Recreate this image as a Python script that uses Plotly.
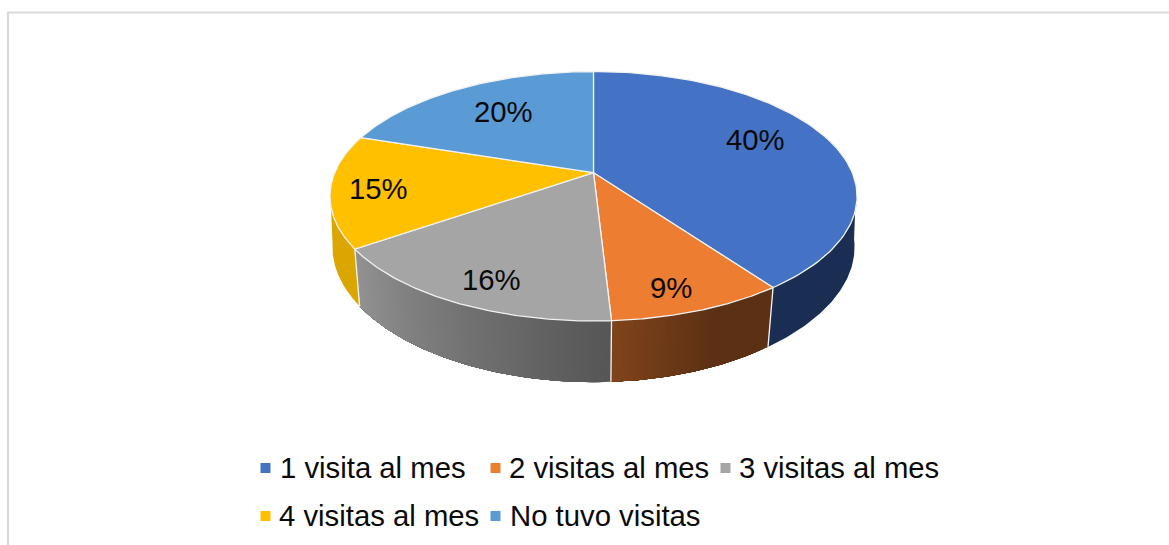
import numpy as np
import plotly.graph_objects as go

categories = ["1 visita al mes", "2 visitas al mes", "3 visitas al mes", "4 visitas al mes", "No tuvo visitas"]
values = [40.0, 9.1, 16.3, 14.6, 20.0]
top_colors = ["#4472C4", "#ED7D31", "#A5A5A5", "#FFC000", "#5B9BD5"]
# side wall shading, at the start and at the end of each slice (clockwise)
side_start = ["#1A2E54", "#5C3014", "#555555", "#DCA600", "#3A6A99"]
side_end = ["#1A2E54", "#7F431B", "#939393", "#DCA600", "#3A6A99"]
side_hold = [0.0, 0.4, 0.0, 0.0, 0.0]

FONT = "Liberation Sans"
TXT = 29.3
# perspective of the pie disc, in screen pixels
CX, CY, BX, AY, K = 593.5, 172.7, 258.8, 120.3, 0.1888
DROP, BX_S0, BX_S1, AY_S = 53.0, 0.995, 0.0002, 1.055


def hexrgb(c):
    return np.array([int(c[i:i + 2], 16) for i in (1, 3, 5)], dtype=float)


def lerp(a, b, t):
    r = hexrgb(a) * (1 - t) + hexrgb(b) * t
    return "rgb(%d,%d,%d)" % tuple(np.round(r))


def rim(theta_deg):
    t = np.radians(theta_deg)
    d = 1 + K * np.cos(t)
    return BX * np.sin(t) / d, AY * np.cos(t) / d


def top(theta_deg):
    X, Y = rim(theta_deg)
    return CX + X, CY - Y


def bottom(theta_deg):
    X, Y = rim(theta_deg)
    return CX + (BX_S0 + BX_S1 * Y) * X, CY + DROP - AY_S * Y


fig = go.Figure()

edges = np.concatenate([[0], np.cumsum(values)]) / sum(values) * 360
VIS_A, VIS_B = 96.0, 262.0

# side walls: each band runs on to the slice end, the next band paints over it
for i in range(len(values)):
    a, b = max(edges[i], VIS_A), min(edges[i + 1], VIS_B)
    if b <= a:
        continue
    n = 1 if side_start[i] == side_end[i] else max(2, int((b - a) / 1.0))
    steps = np.linspace(a, b, n + 1)
    for j in range(n):
        th = np.linspace(steps[j], b, 80)
        xt, yt = top(th)
        xb, yb = bottom(th[::-1])
        t = (j + 0.5) / n
        t = max(0.0, (t - side_hold[i]) / (1 - side_hold[i]))
        col = lerp(side_start[i], side_end[i], t)
        fig.add_trace(go.Scatter(
            x=np.concatenate([xt, xb]), y=np.concatenate([yt, yb]),
            mode="lines", fill="toself", fillcolor=col,
            line=dict(color=col, width=0),
            hoverinfo="skip", showlegend=False))

# white seams on the wall
for e in edges:
    if VIS_A < e < VIS_B:
        xt, yt = top(e)
        xb, yb = bottom(e)
        fig.add_trace(go.Scatter(x=[xt, xb], y=[yt, yb], mode="lines",
                                 line=dict(color="#F4F4F4", width=1.3),
                                 hoverinfo="skip", showlegend=False))

# top face
for i, name in enumerate(categories):
    th = np.linspace(edges[i], edges[i + 1], 120)
    xs, ys = top(th)
    fig.add_trace(go.Scatter(
        x=np.concatenate([[CX], xs, [CX]]), y=np.concatenate([[CY], ys, [CY]]),
        mode="lines", fill="toself", fillcolor=top_colors[i],
        line=dict(color="#F2F2F2", width=1.3),
        name=name, hovertemplate=f"{name}: {values[i]:.0f}%<extra></extra>",
        showlegend=False))

# percentage labels
label_xy = [(755, 139), (671, 287), (491, 279), (378, 188), (503, 111)]
for v, (lx, ly) in zip(values, label_xy):
    fig.add_annotation(x=lx, y=ly, text=f"{round(v)}%", showarrow=False,
                       xanchor="center", yanchor="middle",
                       font=dict(family=FONT, size=TXT, color="#0A0A0A"))

# legend
legend_xy = [(265.5, 277.5, 468), (495.5, 507, 468), (725.5, 737, 468), (265.5, 277, 516), (495.5, 507.5, 516)]
for name, col, (mx, tx, ly) in zip(categories, top_colors, legend_xy):
    fig.add_trace(go.Scatter(x=[mx], y=[ly], mode="markers",
                             marker=dict(symbol="square", size=10, color=col),
                             hoverinfo="skip", showlegend=False))
    fig.add_annotation(x=tx, y=ly - 1, text=name, showarrow=False,
                       xanchor="left", yanchor="middle",
                       font=dict(family=FONT, size=TXT, color="#0A0A0A"))

# chart frame (top and left edges only)
fig.add_shape(type="line", x0=7, x1=1169, y0=12.5, y1=12.5, line=dict(color="#D9D9D9", width=2))
fig.add_shape(type="line", x0=8, x1=8, y0=12, y1=545, line=dict(color="#D9D9D9", width=2))

fig.update_layout(
    width=1169, height=545, margin=dict(l=0, r=0, t=0, b=0),
    paper_bgcolor="white", plot_bgcolor="white", showlegend=False,
    xaxis=dict(range=[0, 1169], visible=False, fixedrange=True),
    yaxis=dict(range=[545, 0], visible=False, fixedrange=True),
)
fig.write_html("out.html", config=dict(displayModeBar=False),
               post_script="document.body.style.margin='0';document.body.style.overflow='hidden';")
